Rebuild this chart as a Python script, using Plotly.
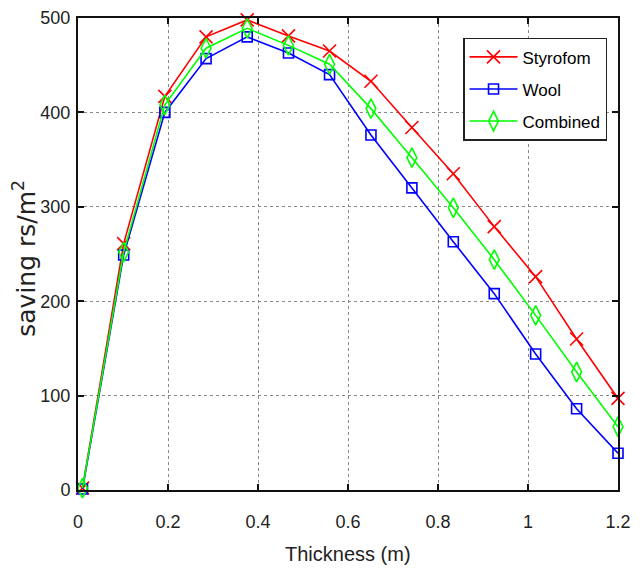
import plotly.graph_objects as go

thickness = [0.01, 0.1015, 0.193, 0.2846, 0.376, 0.4677, 0.559, 0.651, 0.742, 0.834, 0.925, 1.017, 1.108, 1.2]
styrofom = [2, 261, 417, 480, 498, 481, 465, 433, 384, 335, 279, 226, 160, 97]
wool = [1, 249, 400, 457, 480, 463, 440, 376, 320, 263, 208, 144, 86, 39]
combined = [2, 252, 408, 468, 489, 471, 451, 404, 352, 299, 244, 185, 125, 67]

x_ticks = [0, 0.2, 0.4, 0.6, 0.8, 1, 1.2]
x_tick_text = ["0", "0.2", "0.4", "0.6", "0.8", "1", "1.2"]
y_ticks = [0, 100, 200, 300, 400, 500]

series = [
    ("Styrofom", styrofom, "#ff0000", "x-thin-open", 13),
    ("Wool", wool, "#0000ff", "square-open", 10),
    ("Combined", combined, "#00ff00", "diamond-tall-open", 14),
]

FONT = "Liberation Sans, Arial, sans-serif"

fig = go.Figure()
for name, vals, col, sym, sz in series:
    fig.add_trace(go.Scatter(
        x=thickness, y=vals, name=name, mode="lines+markers",
        legendgroup=name,
        line=dict(color=col, width=1.6),
        marker=dict(symbol=sym, size=sz, color=col, line=dict(color=col, width=1.6)),
        cliponaxis=False,
    ))

axis_common = dict(
    showline=True, linecolor="#111111", linewidth=2, mirror="ticks",
    ticks="inside", ticklen=6, tickwidth=2, tickcolor="#111111",
    showgrid=True, gridcolor="#888888", griddash="dot", gridwidth=1,
    zeroline=False, automargin=False, ticklabeloverflow="allow",
    tickfont=dict(family=FONT, size=18, color="#222222"),
)

# page body adds an 8px offset, so the figure is 8px smaller than the window
fig.update_layout(
    width=634, height=563,
    margin=dict(l=70, r=24, t=10, b=81),
    paper_bgcolor="white", plot_bgcolor="white",
    showlegend=True,
    legend=dict(
        x=0.713, y=0.958, xanchor="left", yanchor="top",
        bordercolor="#222222", borderwidth=1.5, bgcolor="white",
        font=dict(family=FONT, size=17, color="black"),
        itemwidth=48, tracegroupgap=7, traceorder="grouped",
    ),
    annotations=[
        dict(text="Thickness (m)", xref="paper", yref="paper", x=0.5, y=0,
             xanchor="center", yanchor="middle", yshift=-64, showarrow=False,
             font=dict(family=FONT, size=20, color="#222222")),
        dict(text="saving rs/m<sup>2</sup>", xref="paper", yref="paper", x=0, y=0.49,
             xanchor="center", yanchor="middle", xshift=-53, textangle=-90, showarrow=False,
             font=dict(family="DejaVu Sans, Liberation Sans, sans-serif", size=25, color="#222222")),
    ],
)
fig.update_xaxes(range=[0, 1.2], tickvals=x_ticks, ticktext=x_tick_text,
                 ticklabelstandoff=14, **axis_common)
fig.update_yaxes(range=[0, 500], tickvals=y_ticks, ticklabelstandoff=2, **axis_common)

fig.write_html("out.html")
